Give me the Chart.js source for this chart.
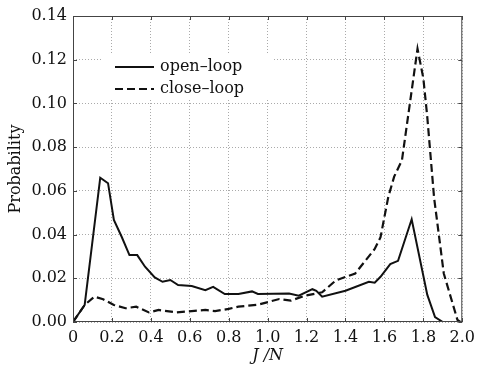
<!DOCTYPE html>
<html lang="en">
<head>
<meta charset="UTF-8">
<title>Probability vs J/N</title>
<script src="https://cdn.jsdelivr.net/npm/chart.js"></script>
<style>
  html, body { margin: 0; padding: 0; background: #fff; }
  #wrap { width: 481px; height: 368px; }
</style>
</head>
<body>
<div id="wrap"><canvas id="probChart" width="481" height="368"></canvas></div>
<script>
// values
const openX = [0, 0.06, 0.14, 0.18, 0.21, 0.25, 0.29, 0.33, 0.37, 0.42, 0.46, 0.5, 0.54, 0.61, 0.68, 0.72, 0.78, 0.85, 0.92, 0.95, 1.11, 1.16, 1.23, 1.25, 1.28, 1.4, 1.52, 1.55, 1.58, 1.63, 1.67, 1.74, 1.82, 1.86, 1.9];
const openY = [0, 0.0078, 0.066, 0.0635, 0.0467, 0.039, 0.0306, 0.0306, 0.0253, 0.0204, 0.0184, 0.0192, 0.0169, 0.0165, 0.0146, 0.0161, 0.0128, 0.0128, 0.014, 0.0128, 0.013, 0.012, 0.015, 0.0143, 0.0116, 0.0143, 0.0184, 0.018, 0.0207, 0.0265, 0.028, 0.047, 0.0125, 0.0022, 0];

const closeX = [0, 0.06, 0.11, 0.155, 0.21, 0.27, 0.325, 0.39, 0.44, 0.53, 0.61, 0.68, 0.73, 0.8, 0.85, 0.95, 1.06, 1.12, 1.19, 1.28, 1.35, 1.45, 1.55, 1.58, 1.62, 1.65, 1.69, 1.77, 1.8, 1.82, 1.855, 1.905, 1.975, 1.99];
const closeY = [0, 0.0078, 0.0116, 0.0104, 0.0078, 0.0063, 0.007, 0.0044, 0.0055, 0.0044, 0.005, 0.0055, 0.005, 0.006, 0.007, 0.0079, 0.0105, 0.0098, 0.012, 0.0136, 0.019, 0.0222, 0.0334, 0.0388, 0.0573, 0.0665, 0.074, 0.125, 0.1115, 0.094, 0.057, 0.0222, 0.001, 0];

const seriesNames = ['open\u2013loop', 'close\u2013loop'];

const serif = '"DejaVu Serif", "Liberation Serif", serif';

function toPoints(xs, ys) {
  return xs.map((x, i) => ({ x: x, y: ys[i] }));
}

// frame round the plot area, with small inward ticks on every side
const frame = {
  id: 'frame',
  afterDraw(chart) {
    const { ctx, chartArea: a, scales } = chart;
    ctx.save();
    ctx.strokeStyle = '#444';
    ctx.lineWidth = 1;
    ctx.strokeRect(a.left + 0.5, a.top + 0.5, a.right - a.left - 1, a.bottom - a.top - 1);
    ctx.beginPath();
    scales.x.ticks.forEach(t => {
      const px = Math.round(scales.x.getPixelForValue(t.value)) + 0.5;
      ctx.moveTo(px, a.bottom); ctx.lineTo(px, a.bottom - 4);
      ctx.moveTo(px, a.top); ctx.lineTo(px, a.top + 4);
    });
    scales.y.ticks.forEach(t => {
      const py = Math.round(scales.y.getPixelForValue(t.value)) + 0.5;
      ctx.moveTo(a.left, py); ctx.lineTo(a.left + 4, py);
      ctx.moveTo(a.right, py); ctx.lineTo(a.right - 4, py);
    });
    ctx.stroke();
    ctx.restore();
  }
};

// legend drawn inside the plot, top left, on a white patch over the grid
const innerLegend = {
  id: 'innerLegend',
  beforeDatasetsDraw(chart) {
    const { ctx, chartArea: a } = chart;
    ctx.save();
    ctx.fillStyle = '#fff';
    ctx.fillRect(a.left + 28, a.top + 38, 172, 44);
    ctx.restore();
  },
  afterDatasetsDraw(chart) {
    const { ctx, chartArea: a } = chart;
    ctx.save();
    ctx.font = '16px ' + serif;
    ctx.textBaseline = 'middle';
    chart.data.datasets.forEach((ds, i) => {
      const y = a.top + 51 + i * 22;
      const x0 = a.left + 42;
      ctx.strokeStyle = ds.borderColor;
      ctx.lineWidth = ds.borderWidth;
      ctx.setLineDash(ds.borderDash || []);
      ctx.beginPath();
      ctx.moveTo(x0, y);
      ctx.lineTo(x0 + 39, y);
      ctx.stroke();
      ctx.setLineDash([]);
      ctx.fillStyle = '#111';
      ctx.fillText(ds.label, x0 + 45, y);
    });
    ctx.restore();
  }
};

const gridOpts = { color: '#aaa', lineWidth: 1, drawTicks: false };
const borderOpts = { display: false, dash: [1, 2] };

const ctx = document.getElementById('probChart').getContext('2d');
new Chart(ctx, {
  type: 'line',
  data: {
    datasets: [
      {
        label: seriesNames[0],
        data: toPoints(openX, openY),
        borderColor: '#111',
        borderWidth: 2,
        pointRadius: 0,
        tension: 0,
        fill: false
      },
      {
        label: seriesNames[1],
        data: toPoints(closeX, closeY),
        borderColor: '#111',
        borderWidth: 2.2,
        borderDash: [8, 4],
        pointRadius: 0,
        tension: 0,
        fill: false
      }
    ]
  },
  options: {
    responsive: false,
    animation: false,
    layout: { padding: { top: 16, right: 16, left: 0, bottom: 0 } },
    plugins: { legend: { display: false }, tooltip: { enabled: false } },
    scales: {
      x: {
        type: 'linear',
        min: 0,
        max: 2,
        afterFit(scale) { scale.height = 46; },
        ticks: {
          stepSize: 0.2,
          padding: 6,
          color: '#111',
          font: { family: serif, size: 16 },
          maxRotation: 0,
          callback: v => (v === 0 ? '0' : v.toFixed(1))
        },
        grid: gridOpts,
        border: borderOpts,
        title: {
          display: true,
          text: 'J /N',
          color: '#111',
          font: { family: serif, size: 16, style: 'italic' },
          padding: { top: 0, bottom: 3 }
        }
      },
      y: {
        min: 0,
        max: 0.14,
        afterFit(scale) { scale.width = 73; },
        ticks: {
          stepSize: 0.02,
          padding: 6,
          color: '#111',
          font: { family: serif, size: 16 },
          callback: v => v.toFixed(2)
        },
        grid: gridOpts,
        border: borderOpts,
        title: {
          display: true,
          text: 'Probability',
          color: '#111',
          font: { family: serif, size: 16 },
          padding: { top: 6, bottom: 0 }
        }
      }
    }
  },
  plugins: [frame, innerLegend]
});
</script>
</body>
</html>
